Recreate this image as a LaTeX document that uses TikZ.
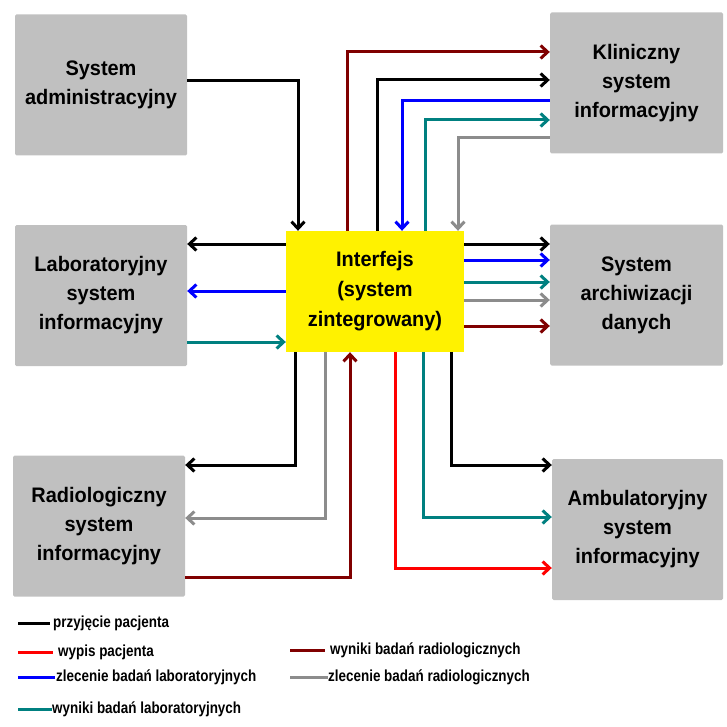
\documentclass[tikz,border=0pt]{standalone}
\usepackage{fontspec}
\setmainfont{Liberation Sans}
\newfontfamily\narrowfont[FakeStretch=0.95]{Liberation Sans}
\newfontfamily\legfont[FakeStretch=0.84]{Liberation Sans}
\usetikzlibrary{arrows.meta}
\definecolor{dred}{RGB}{128,0,0}
\definecolor{teal2}{RGB}{0,128,128}
\definecolor{gray2}{RGB}{140,140,140}
\definecolor{boxgray}{RGB}{192,192,192}
\begin{document}
\begin{tikzpicture}[x=1pt,y=-1pt,
  box/.style={fill=boxgray, draw=none, rounded corners=1.5pt, minimum width=172pt, minimum height=141pt,
    align=center, font=\narrowfont\bfseries\fontsize{21}{29}\selectfont, inner sep=0pt},
  yel/.style={fill=yellow, draw=none, minimum width=178pt, minimum height=121pt,
    align=center, font=\narrowfont\bfseries\fontsize{21}{30}\selectfont, inner sep=0pt},
  ln/.style={line width=3pt},
  ar/.style={ln, -{Straight Barb[length=7pt,width=13pt]}},
  leg/.style={anchor=west, font=\legfont\bfseries\fontsize{16}{18}\selectfont, inner sep=0pt},
  legln/.style={line width=3pt}]
\useasboundingbox (0,0) rectangle (726,727);
% boxes
\node[box] (admin) at (101,85) {System\\administracyjny};
\node[box] (lab) at (101,295.5) {Laboratoryjny\\system\\informacyjny};
\node[box] (radio) at (99,526) {Radiologiczny\\system\\informacyjny};
\node[box, minimum width=173pt] (klin) at (636.5,83) {Kliniczny\\system\\informacyjny};
\node[box, minimum width=173pt] (arch) at (636.5,295) {System\\archiwizacji\\danych};
\node[box, minimum width=171pt] (amb) at (637.5,529.5) {Ambulatoryjny\\system\\informacyjny};
\node[yel] (yel) at (375,291.5) {Interfejs\\(system\\zintegrowany)};
% admin -> interface
\coordinate (k0) at (298,81);
\draw[ar,black] (admin.east |- k0) -- (k0) -- (yel.north -| k0);
% top connectors
\coordinate (t1) at (347,52);
\coordinate (t2) at (377,80);
\coordinate (t3) at (402,101);
\coordinate (t4) at (425,120);
\coordinate (t5) at (458,138);
\draw[ar,dred] (yel.north -| t1) -- (t1) -- (klin.west |- t1);
\draw[ar,black] (yel.north -| t2) -- (t2) -- (klin.west |- t2);
\draw[ar,blue] (klin.west |- t3) -- (t3) -- (yel.north -| t3);
\draw[ar,teal2] (yel.north -| t4) -- (t4) -- (klin.west |- t4);
\draw[ar,gray2] (klin.west |- t5) -- (t5) -- (yel.north -| t5);
% right connectors
\coordinate (r1) at (0,244);
\coordinate (r2) at (0,260);
\coordinate (r3) at (0,282);
\coordinate (r4) at (0,300);
\coordinate (r5) at (0,326);
\draw[ar,black] (yel.east |- r1) -- (arch.west |- r1);
\draw[ar,blue] (yel.east |- r2) -- (arch.west |- r2);
\draw[ar,teal2] (yel.east |- r3) -- (arch.west |- r3);
\draw[ar,gray2] (yel.east |- r4) -- (arch.west |- r4);
\draw[ar,dred] (yel.east |- r5) -- (arch.west |- r5);
% left connectors
\coordinate (s1) at (0,244);
\coordinate (s2) at (0,291);
\coordinate (s3) at (0,342);
\draw[ar,black] (yel.west |- s1) -- (lab.east |- s1);
\draw[ar,blue] (yel.west |- s2) -- (lab.east |- s2);
\draw[ar,teal2] (lab.east |- s3) -- (yel.west |- s3);
% bottom connectors
\coordinate (b1) at (295,465);
\coordinate (b2) at (325,518);
\coordinate (b3) at (350,577);
\coordinate (b4) at (395,568);
\coordinate (b5) at (423,517);
\coordinate (b6) at (451,465);
\draw[ar,black] (yel.south -| b1) -- (b1) -- (radio.east |- b1);
\draw[ar,gray2] (yel.south -| b2) -- (b2) -- (radio.east |- b2);
\draw[ar,dred] (radio.east |- b3) -- (b3) -- (yel.south -| b3);
\draw[ar,red] (yel.south -| b4) -- (b4) -- (amb.west |- b4);
\draw[ar,teal2] (yel.south -| b5) -- (b5) -- (amb.west |- b5);
\draw[ar,black] (yel.south -| b6) -- (b6) -- (amb.west |- b6);
% legend
\node[leg] (l1) at (53,623) {przyjęcie pacjenta};
\node[leg] (l2) at (58,652) {wypis pacjenta};
\node[leg] (l3) at (56,677) {zlecenie badań laboratoryjnych};
\node[leg] (l4) at (52,709) {wyniki badań laboratoryjnych};
\node[leg] (l5) at (330,650) {wyniki badań radiologicznych};
\node[leg] (l6) at (328,677) {zlecenie badań radiologicznych};
\coordinate (m1) at (18,623);
\coordinate (m2) at (18,652);
\coordinate (m3) at (18,677);
\coordinate (m4) at (18,709);
\coordinate (m5) at (290,650);
\coordinate (m6) at (290,677);
\draw[legln,black] (m1) -- ([xshift=-3pt]l1.west);
\draw[legln,red] (m2) -- ([xshift=-5pt]l2.west);
\draw[legln,blue] (m3) -- ([xshift=-1pt]l3.west);
\draw[legln,teal2] (m4) -- (l4.west);
\draw[legln,dred] (m5) -- ([xshift=-5pt]l5.west);
\draw[legln,gray2] (m6) -- (l6.west);
\end{tikzpicture}
\end{document}
